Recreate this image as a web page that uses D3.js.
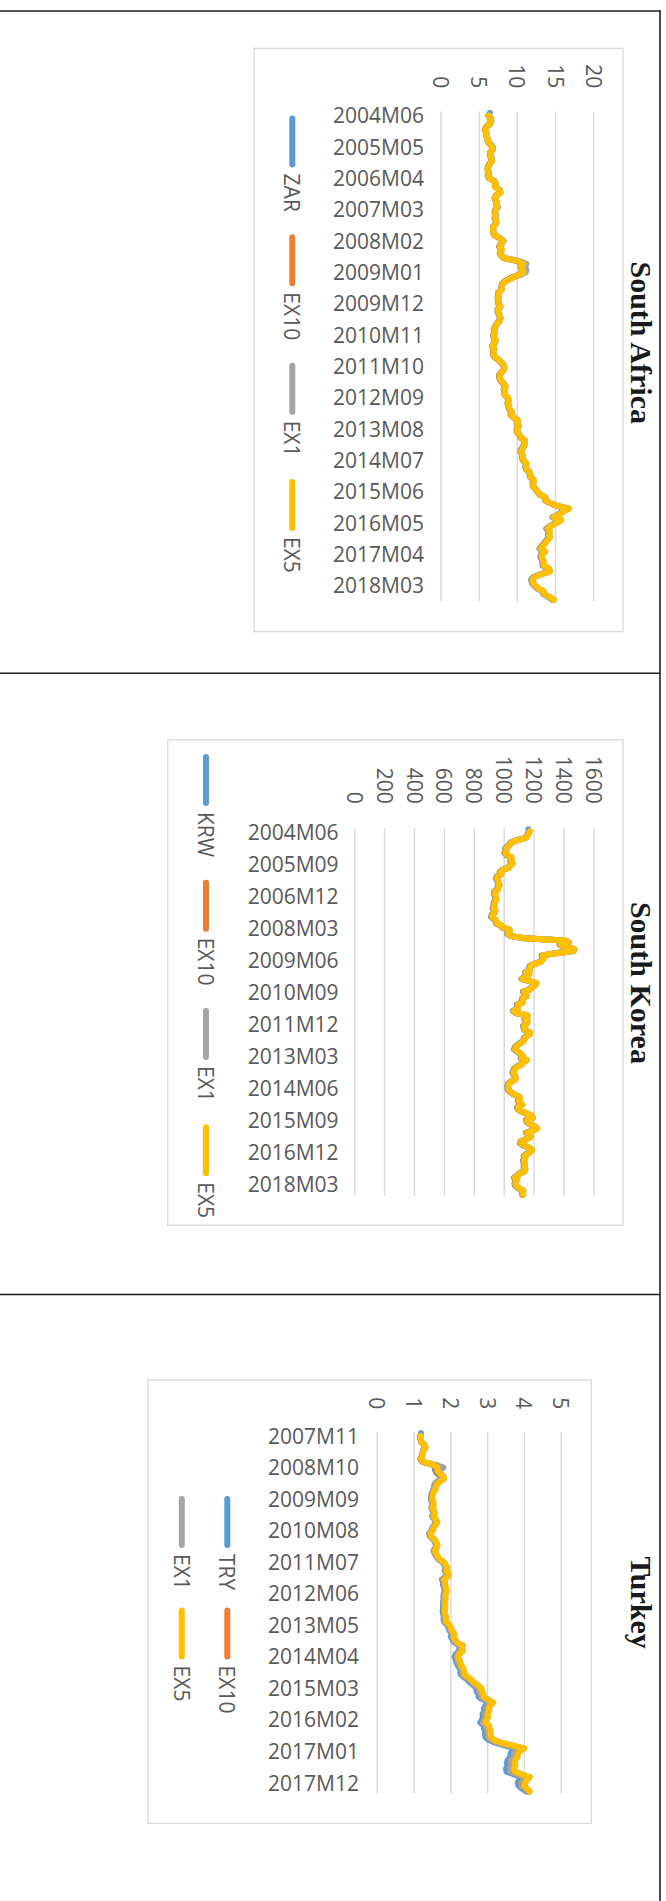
<!DOCTYPE html>
<html>
<head>
<meta charset="utf-8">
<script src="https://cdn.jsdelivr.net/npm/d3@7"></script>
<style>
  html, body { margin: 0; padding: 0; background: #fff; }
  svg { display: block; }
</style>
</head>
<body>
<svg id="page" width="666" height="1901"></svg>
<script>
// ---------------- South Africa (USD/ZAR), 2004M06 - 2018M09 ----------------
const saNames = ["ZAR", "EX10", "EX1", "EX5"];
const saTicks = [0, 5, 10, 15, 20];
const saLabels = ["2004M06","2005M05","2006M04","2007M03","2008M02","2009M01","2009M12","2010M11",
                  "2011M10","2012M09","2013M08","2014M07","2015M06","2016M05","2017M04","2018M03"];
const saZAR = [
  6.4,6.2,6.5,6.5,6.3,5.9,5.7,
  5.9,5.9,6.1,6.1,6.4,6.7,6.7,6.4,6.4,6.6,6.6,6.3,
  6.1,6.1,6.2,6.1,6.3,7.0,7.1,7.1,7.6,7.7,7.2,7.0,
  7.2,7.2,7.4,7.1,7.0,7.1,7.0,7.2,7.1,6.8,6.8,6.8,
  7.0,7.7,8.1,7.8,7.6,7.9,7.7,7.8,8.2,9.9,10.7,10.4,
  10.6,10.7,10.0,9.1,8.4,8.0,7.9,7.9,7.5,7.5,7.4,7.5,
  7.5,7.7,7.4,7.4,7.6,7.7,7.6,7.3,7.1,6.9,7.0,6.8,
  6.9,7.1,6.9,6.7,6.9,6.8,6.8,7.1,7.6,8.0,8.2,8.2,
  7.9,7.6,7.6,7.8,8.1,8.4,8.2,8.3,8.3,8.7,8.8,8.7,
  8.8,8.9,9.2,9.1,9.5,10.0,9.9,10.1,9.9,9.9,10.2,10.4,
  10.9,10.9,10.8,10.5,10.4,10.6,10.6,10.7,11.1,11.0,11.1,11.5,
  11.6,11.7,12.1,12.0,12.0,12.3,12.6,12.9,13.6,13.6,14.2,15.2,
  16.6,15.8,15.4,14.6,15.6,15.0,14.3,13.8,14.1,14.0,14.1,13.8,
  13.5,13.2,12.9,13.5,13.1,13.0,13.2,13.3,13.3,14.0,14.1,13.0,
  12.1,11.8,11.9,12.2,12.6,13.3,13.4,14.1,14.6
];
// forecast series have no value for the first month
const saEX10 = [
  null,6.25,6.5,6.55,6.35,5.95,5.75,
  5.9,5.95,6.1,6.15,6.4,6.7,6.75,6.45,6.45,6.6,6.65,6.35,
  6.15,6.1,6.2,6.15,6.35,7.0,7.15,7.1,7.6,7.75,7.25,7.05,
  7.2,7.25,7.4,7.15,7.05,7.1,7.05,7.25,7.15,6.85,6.8,6.85,
  7.05,7.7,8.15,7.85,7.65,7.95,7.75,7.85,8.25,9.95,10.75,10.45,
  10.65,10.75,10.05,9.2,8.5,8.05,7.95,7.95,7.55,7.55,7.45,7.55,
  7.55,7.75,7.45,7.45,7.65,7.75,7.65,7.35,7.15,6.95,7.05,6.85,
  6.95,7.15,6.95,6.75,6.95,6.85,6.85,7.15,7.65,8.05,8.25,8.25,
  7.95,7.65,7.65,7.85,8.15,8.45,8.25,8.35,8.35,8.75,8.85,8.75,
  8.85,8.95,9.25,9.15,9.55,10.05,9.95,10.15,9.95,9.95,10.25,10.45,
  10.95,10.95,10.85,10.6,10.45,10.65,10.65,10.75,11.15,11.1,11.15,11.55,
  11.65,11.75,12.15,12.05,12.05,12.35,12.65,12.95,13.65,13.65,14.25,15.25,
  16.7,15.9,15.5,14.7,15.7,15.1,14.4,13.9,14.2,14.1,14.2,13.9,
  13.6,13.3,13.0,13.6,13.2,13.1,13.3,13.4,13.4,14.1,14.2,13.1,
  12.2,11.9,12.0,12.3,12.7,13.4,13.5,14.2,14.7
];
const saEX1 = [
  null,6.2,6.6,6.6,6.4,6.0,5.8,
  6.0,6.0,6.1,6.2,6.5,6.8,6.8,6.5,6.5,6.7,6.7,6.4,
  6.2,6.1,6.3,6.2,6.4,7.1,7.2,7.2,7.7,7.8,7.3,7.1,
  7.3,7.3,7.5,7.2,7.1,7.2,7.1,7.3,7.2,6.9,6.9,6.9,
  7.1,7.8,8.2,7.9,7.7,8.0,7.8,7.9,8.4,10.2,11.2,10.9,
  11.2,11.1,10.3,9.3,8.6,8.1,8.0,8.0,7.6,7.6,7.5,7.6,
  7.6,7.8,7.5,7.5,7.7,7.8,7.7,7.4,7.2,7.0,7.1,6.9,
  7.0,7.2,7.0,6.8,7.0,6.9,6.9,7.2,7.7,8.1,8.3,8.3,
  8.0,7.7,7.7,7.9,8.2,8.5,8.3,8.4,8.4,8.8,8.9,8.8,
  8.9,9.0,9.3,9.2,9.6,10.1,10.0,10.2,10.0,10.0,10.3,10.5,
  11.0,11.0,10.9,10.6,10.5,10.7,10.7,10.8,11.2,11.1,11.2,11.6,
  11.7,11.8,12.2,12.1,12.1,12.4,12.7,13.0,13.7,13.7,14.3,15.3,
  16.7,15.9,15.5,14.7,15.7,15.1,14.4,13.9,14.2,14.1,14.2,13.9,
  13.6,13.3,13.0,13.6,13.2,13.1,13.3,13.4,13.4,14.1,14.2,13.1,
  12.2,11.9,12.0,12.3,12.7,13.4,13.5,14.2,14.7
];
const saEX5 = [
  null,6.3,6.5,6.6,6.4,6.0,5.8,
  5.9,6.0,6.1,6.2,6.4,6.7,6.8,6.5,6.5,6.6,6.7,6.4,
  6.2,6.1,6.2,6.2,6.4,7.0,7.2,7.1,7.6,7.8,7.3,7.1,
  7.2,7.3,7.4,7.2,7.1,7.1,7.1,7.3,7.2,6.9,6.8,6.9,
  7.1,7.7,8.2,7.9,7.7,8.0,7.8,7.9,8.3,10.0,10.8,10.5,
  10.7,10.8,10.1,9.3,8.6,8.1,8.0,8.0,7.6,7.6,7.5,7.6,
  7.6,7.8,7.5,7.5,7.7,7.8,7.7,7.4,7.2,7.0,7.1,6.9,
  7.0,7.2,7.0,6.8,7.0,6.9,6.9,7.2,7.7,8.1,8.3,8.3,
  8.0,7.7,7.7,7.9,8.2,8.5,8.3,8.4,8.4,8.8,8.9,8.8,
  8.9,9.0,9.3,9.2,9.6,10.1,10.0,10.2,10.0,10.0,10.3,10.5,
  11.0,11.0,10.9,10.7,10.5,10.7,10.7,10.8,11.2,11.2,11.2,11.6,
  11.7,11.8,12.2,12.1,12.1,12.4,12.7,13.0,13.7,13.7,14.3,15.3,
  16.8,16.0,15.6,14.8,15.8,15.2,14.5,14.0,14.3,14.2,14.3,14.0,
  13.7,13.4,13.1,13.7,13.3,13.2,13.4,13.5,13.5,14.2,14.3,13.2,
  12.3,12.0,12.1,12.4,12.8,13.5,13.6,14.3,14.8
];

// ---------------- South Korea (USD/KRW), 2004M06 - 2018M09 ----------------
const krNames = ["KRW", "EX10", "EX1", "EX5"];
const krTicks = [0, 200, 400, 600, 800, 1000, 1200, 1400, 1600];
const krLabels = ["2004M06","2005M09","2006M12","2008M03","2009M06","2010M09",
                  "2011M12","2013M03","2014M06","2015M09","2016M12","2018M03"];
const krKRW = [
  1162,1165,1159,1150,1140,1090,1045,
  1035,1020,1006,1011,1000,1012,1040,1045,1040,1050,1035,1025,
  985,970,975,950,945,953,955,962,955,953,935,930,
  937,938,942,930,928,928,921,935,930,915,912,930,
  942,945,975,985,1030,1030,1020,1045,1130,1400,1420,1370,
  1400,1460,1455,1340,1250,1260,1250,1240,1200,1170,1165,1165,
  1140,1160,1135,1115,1165,1210,1200,1180,1165,1125,1135,1145,
  1120,1118,1120,1085,1085,1085,1058,1075,1150,1150,1135,1150,
  1145,1125,1130,1135,1165,1165,1140,1130,1125,1105,1085,1070,
  1065,1085,1105,1120,1110,1145,1125,1112,1085,1065,1060,1055,
  1065,1070,1070,1045,1025,1020,1020,1025,1040,1060,1095,1100,
  1090,1100,1115,1085,1090,1110,1145,1180,1185,1145,1150,1170,
  1200,1215,1185,1145,1170,1170,1145,1110,1105,1130,1160,1180,
  1170,1145,1130,1135,1125,1130,1130,1130,1135,1130,1100,1085,
  1065,1080,1070,1068,1075,1095,1122,1120,1120
];
const krEX10 = [
  null,1169,1163,1154,1144,1094,1049,
  1039,1024,1010,1015,1004,1016,1044,1049,1044,1054,1039,1029,
  989,974,979,954,949,957,959,966,959,957,939,934,
  941,942,946,934,932,932,925,939,934,919,916,934,
  946,949,979,989,1034,1034,1024,1049,1134,1404,1424,1374,
  1404,1464,1459,1344,1254,1264,1254,1244,1204,1174,1169,1169,
  1144,1164,1139,1119,1169,1214,1204,1184,1169,1129,1139,1149,
  1124,1122,1124,1089,1089,1089,1062,1079,1154,1154,1139,1154,
  1149,1129,1134,1139,1169,1169,1144,1134,1129,1109,1089,1074,
  1069,1089,1109,1124,1114,1149,1129,1116,1089,1069,1064,1059,
  1069,1074,1074,1049,1029,1024,1024,1029,1044,1064,1099,1104,
  1094,1104,1119,1089,1094,1114,1149,1184,1189,1149,1154,1174,
  1204,1219,1189,1149,1174,1174,1149,1114,1109,1134,1164,1184,
  1174,1149,1134,1139,1129,1134,1134,1134,1139,1134,1104,1089,
  1069,1084,1074,1072,1079,1099,1126,1124,1124
];
const krEX1 = [
  null,1171,1165,1156,1146,1096,1051,
  1041,1026,1012,1017,1006,1018,1046,1051,1046,1056,1041,1031,
  991,976,981,956,951,959,961,968,961,959,941,936,
  943,944,948,936,934,934,927,941,936,921,918,936,
  948,951,981,991,1036,1036,1026,1051,1140,1415,1435,1380,
  1410,1472,1466,1350,1256,1266,1256,1246,1206,1176,1171,1171,
  1146,1166,1141,1121,1171,1216,1206,1186,1171,1131,1141,1151,
  1126,1124,1126,1091,1091,1091,1064,1081,1156,1156,1141,1156,
  1151,1131,1136,1141,1171,1171,1146,1136,1131,1111,1091,1076,
  1071,1091,1111,1126,1116,1151,1131,1118,1091,1071,1066,1061,
  1071,1076,1076,1051,1031,1026,1026,1031,1046,1066,1101,1106,
  1096,1106,1121,1091,1096,1116,1151,1186,1191,1151,1156,1176,
  1206,1221,1191,1151,1176,1176,1151,1116,1111,1136,1166,1186,
  1176,1151,1136,1141,1131,1136,1136,1136,1141,1136,1106,1091,
  1071,1086,1076,1074,1081,1101,1128,1126,1126
];
const krEX5 = [
  null,1173,1167,1158,1148,1098,1053,
  1043,1028,1014,1019,1008,1020,1048,1053,1048,1058,1043,1033,
  993,978,983,958,953,961,963,970,963,961,943,938,
  945,946,950,938,936,936,929,943,938,923,920,938,
  950,953,983,993,1038,1038,1028,1053,1138,1408,1428,1378,
  1408,1468,1463,1348,1258,1268,1258,1248,1208,1178,1173,1173,
  1148,1168,1143,1123,1173,1218,1208,1188,1173,1133,1143,1153,
  1128,1126,1128,1093,1093,1093,1066,1083,1158,1158,1143,1158,
  1153,1133,1138,1143,1173,1173,1148,1138,1133,1113,1093,1078,
  1073,1093,1113,1128,1118,1153,1133,1120,1093,1073,1068,1063,
  1073,1078,1078,1053,1033,1028,1028,1033,1048,1068,1103,1108,
  1098,1108,1123,1093,1098,1118,1153,1188,1193,1153,1158,1178,
  1208,1223,1193,1153,1178,1178,1153,1118,1113,1138,1168,1188,
  1178,1153,1138,1143,1133,1138,1138,1138,1143,1138,1108,1093,
  1073,1088,1078,1076,1083,1103,1130,1128,1128
];

// ---------------- Turkey (USD/TRY), 2007M11 - 2018M04 ----------------
const trNames = ["TRY", "EX10", "EX1", "EX5"];
const trTicks = [0, 1, 2, 3, 4, 5];
const trLabels = ["2007M11","2008M10","2009M09","2010M08","2011M07","2012M06",
                  "2013M05","2014M04","2015M03","2016M02","2017M01","2017M12"];
const trTRY = [
  1.19,1.17,
  1.17,1.19,1.27,1.30,1.24,1.23,1.21,1.17,1.23,1.50,1.58,1.57,
  1.62,1.72,1.73,1.62,1.55,1.55,1.52,1.48,1.47,1.46,1.49,1.50,
  1.47,1.51,1.53,1.49,1.55,1.60,1.55,1.50,1.48,1.41,1.43,1.52,
  1.57,1.60,1.58,1.53,1.56,1.61,1.66,1.77,1.82,1.86,1.83,1.90,
  1.87,1.76,1.79,1.79,1.82,1.83,1.81,1.80,1.80,1.79,1.79,1.79,
  1.78,1.79,1.81,1.80,1.83,1.91,1.94,1.97,2.03,2.00,2.05,2.09,
  2.24,2.23,2.24,2.14,2.10,2.14,2.15,2.19,2.24,2.27,2.26,2.35,
  2.45,2.52,2.62,2.70,2.70,2.75,2.76,2.88,3.02,2.95,2.90,2.92,
  2.86,2.88,2.84,2.80,2.90,2.90,2.94,2.93,2.94,3.02,3.20,3.48,
  3.78,3.66,3.62,3.62,3.55,3.52,3.54,3.50,3.51,3.70,3.93,3.86,
  3.82,3.84,3.93,4.05
];
const trEX10 = [
  null,1.18,
  1.18,1.20,1.28,1.31,1.25,1.24,1.22,1.18,1.24,1.51,1.61,1.60,
  1.66,1.76,1.77,1.66,1.58,1.57,1.54,1.50,1.49,1.48,1.51,1.52,
  1.49,1.53,1.55,1.51,1.57,1.62,1.57,1.52,1.50,1.43,1.45,1.54,
  1.59,1.62,1.60,1.55,1.58,1.63,1.68,1.79,1.84,1.88,1.85,1.92,
  1.90,1.79,1.82,1.82,1.85,1.86,1.84,1.83,1.83,1.82,1.82,1.82,
  1.81,1.82,1.84,1.83,1.86,1.94,1.97,2.00,2.07,2.04,2.09,2.13,
  2.28,2.27,2.28,2.19,2.15,2.19,2.20,2.24,2.29,2.32,2.31,2.40,
  2.50,2.58,2.68,2.77,2.77,2.82,2.83,2.95,3.09,3.01,2.97,2.98,
  2.93,2.95,2.91,2.87,2.97,2.97,3.01,3.00,3.01,3.10,3.29,3.60,
  3.89,3.77,3.72,3.72,3.65,3.63,3.65,3.61,3.62,3.81,4.04,3.97,
  3.92,3.92,4.00,4.10
];
const trEX1 = [
  null,1.18,
  1.18,1.20,1.28,1.31,1.26,1.24,1.22,1.18,1.25,1.58,1.80,1.70,
  1.72,1.80,1.78,1.66,1.58,1.57,1.54,1.50,1.49,1.48,1.51,1.52,
  1.49,1.53,1.55,1.51,1.57,1.62,1.57,1.52,1.50,1.43,1.45,1.54,
  1.59,1.62,1.60,1.55,1.58,1.63,1.68,1.79,1.84,1.88,1.85,1.92,
  1.90,1.79,1.82,1.82,1.85,1.86,1.84,1.83,1.83,1.82,1.82,1.82,
  1.81,1.82,1.84,1.83,1.86,1.94,1.97,2.00,2.07,2.04,2.09,2.13,
  2.28,2.27,2.28,2.19,2.15,2.19,2.20,2.24,2.29,2.32,2.31,2.40,
  2.50,2.58,2.68,2.77,2.77,2.82,2.83,2.95,3.09,3.01,2.97,2.98,
  2.93,2.95,2.91,2.87,2.97,2.97,3.01,3.00,3.01,3.10,3.29,3.60,
  3.89,3.77,3.72,3.72,3.65,3.63,3.65,3.61,3.62,3.81,4.04,3.97,
  3.92,3.92,4.00,4.10
];
const trEX5 = [
  null,1.19,
  1.19,1.21,1.29,1.32,1.27,1.25,1.23,1.19,1.26,1.53,1.64,1.64,
  1.70,1.80,1.82,1.70,1.61,1.60,1.57,1.52,1.51,1.50,1.53,1.54,
  1.51,1.55,1.57,1.53,1.59,1.64,1.59,1.54,1.52,1.45,1.47,1.56,
  1.61,1.64,1.62,1.57,1.60,1.65,1.70,1.82,1.87,1.91,1.88,1.95,
  1.93,1.82,1.85,1.85,1.88,1.89,1.87,1.86,1.86,1.85,1.85,1.85,
  1.84,1.85,1.87,1.87,1.90,1.98,2.01,2.04,2.11,2.08,2.13,2.17,
  2.33,2.32,2.33,2.24,2.20,2.24,2.25,2.29,2.34,2.37,2.37,2.46,
  2.56,2.64,2.75,2.84,2.84,2.89,2.90,3.03,3.16,3.08,3.04,3.05,
  3.00,3.02,2.98,2.95,3.05,3.05,3.09,3.08,3.09,3.18,3.38,3.72,
  4.00,3.88,3.82,3.82,3.76,3.74,3.76,3.72,3.74,3.93,4.15,4.08,
  4.02,4.00,4.08,4.15
];

// ---------------- helpers ----------------
const seriesColors = ["#5b9bd5", "#ed7d31", "#a5a5a5", "#ffc000"];
const labelFont = "'Open Sans', 'Liberation Sans', sans-serif";
const labelSize = 21;
const labelColor = "#595959";

// month labels of the form 2004M06 from first to last inclusive
function monthSeq(first, last) {
  const [y0, m0] = first.split("M").map(Number);
  const [y1, m1] = last.split("M").map(Number);
  const out = [];
  let y = y0, m = m0;
  while (y < y1 || (y === y1 && m <= m1)) {
    out.push(y + "M" + String(m).padStart(2, "0"));
    m++;
    if (m > 12) { m = 1; y++; }
  }
  return out;
}

const svg = d3.select("#page");

function drawChart(c) {
  const g = svg.append("g");

  // chart frame
  g.append("rect")
    .attr("x", c.box[0]).attr("y", c.box[1])
    .attr("width", c.box[2] - c.box[0]).attr("height", c.box[3] - c.box[1])
    .attr("fill", "#fff").attr("stroke", "#d9d9d9").attr("stroke-width", 1.3);

  // value axis runs left -> right, months run top -> bottom
  const x = d3.scaleLinear().domain([0, d3.max(c.ticks)]).range(c.valueRange);
  const y = d3.scalePoint().domain(c.months).range(c.catRange).padding(0.5);

  g.append("g").selectAll("line").data(c.ticks).join("line")
    .attr("x1", d => x(d)).attr("x2", d => x(d))
    .attr("y1", c.catRange[0]).attr("y2", c.catRange[1])
    .attr("stroke", "#d9d9d9").attr("stroke-width", 1.5);

  g.append("g").selectAll("text").data(c.ticks).join("text")
    .attr("transform", d => `translate(${x(d)},${c.tickEnd}) rotate(90)`)
    .attr("text-anchor", "end").attr("dominant-baseline", "central")
    .style("font-family", labelFont).style("font-size", labelSize + "px")
    .attr("fill", labelColor).text(d => d);

  g.append("g").selectAll("text").data(c.labels).join("text")
    .attr("x", c.catRight).attr("y", d => y(d) + 2.5)
    .attr("text-anchor", "end").attr("dominant-baseline", "central")
    .style("font-family", labelFont).style("font-size", labelSize + "px")
    .attr("fill", labelColor).text(d => d);

  const line = d3.line()
    .defined(d => d[0] !== undefined && d[1] != null)
    .x(d => x(d[1])).y(d => y(d[0]));

  c.series.forEach((vals, i) => {
    g.append("path")
      .datum(vals.map((v, k) => [c.months[k], v]))
      .attr("d", line)
      .attr("fill", "none").attr("stroke", seriesColors[i])
      .attr("stroke-width", 6)
      .attr("stroke-linejoin", "round").attr("stroke-linecap", "round");
  });

  // legend: short vertical line samples followed by rotated names
  const lg = g.append("g");
  const lineLen = 52, gap = 6, spacing = 22.5;
  const texts = c.names.map(n => lg.append("text")
    .attr("dominant-baseline", "central")
    .style("font-family", labelFont).style("font-size", labelSize + "px")
    .attr("fill", labelColor).text(n));
  const widths = texts.map(t => t.node().getComputedTextLength());

  const place = (i, lx, pos) => {
    lg.append("line")
      .attr("x1", lx).attr("x2", lx)
      .attr("y1", pos + 3).attr("y2", pos + lineLen - 3)
      .attr("stroke", seriesColors[i]).attr("stroke-width", 6)
      .attr("stroke-linecap", "round");
    texts[i].attr("transform", `translate(${lx},${pos + lineLen + gap}) rotate(90)`);
  };

  if (c.legend.slot) {
    c.names.forEach((n, i) => {
      const row = Math.floor(i / c.legend.perRow), col = i % c.legend.perRow;
      place(i, c.legend.xs[row], c.legend.start + col * c.legend.slot);
    });
  } else {
    const total = d3.sum(widths) + c.names.length * (lineLen + gap) + (c.names.length - 1) * spacing;
    let pos = c.legend.center - total / 2;
    c.names.forEach((n, i) => {
      place(i, c.legend.xs[0], pos);
      pos += lineLen + gap + widths[i] + spacing;
    });
  }

  // cell title, set sideways like the rest of the page
  g.append("text")
    .attr("transform", `translate(631,${c.titleY}) rotate(90)`)
    .attr("text-anchor", "middle")
    .style("font-family", "'Liberation Serif', 'Times New Roman', serif")
    .style("font-weight", "bold").style("font-size", "30px")
    .attr("fill", "#1a1a1a").text(c.title);
}

// table rules
const rule = "#231f20";
svg.append("line").attr("x1", 0).attr("x2", 660.5).attr("y1", 11).attr("y2", 11)
  .attr("stroke", rule).attr("stroke-width", 1.6);
svg.append("line").attr("x1", 660).attr("x2", 660).attr("y1", 10.2).attr("y2", 1901)
  .attr("stroke", rule).attr("stroke-width", 1.6);
[673.3, 1294.5].forEach(yy => svg.append("line")
  .attr("x1", 0).attr("x2", 660).attr("y1", yy).attr("y2", yy)
  .attr("stroke", rule).attr("stroke-width", 1.6));

drawChart({
  title: "South Africa", titleY: 342.7,
  box: [254, 48.3, 623, 631.7],
  valueRange: [441, 593.7], catRange: [111.4, 601.3],
  tickEnd: 88.2, catRight: 424,
  ticks: saTicks, labels: saLabels,
  months: monthSeq("2004M06", "2018M09"),
  names: saNames, series: [saZAR, saEX10, saEX1, saEX5],
  legend: { xs: [292.3], center: 344.2 }
});

drawChart({
  title: "South Korea", titleY: 982.9,
  box: [167.8, 739.8, 623, 1225.2],
  valueRange: [354.7, 593.9], catRange: [828.2, 1195.8],
  tickEnd: 803.7, catRight: 338.6,
  ticks: krTicks, labels: krLabels,
  months: monthSeq("2004M06", "2018M09"),
  names: krNames, series: [krKRW, krEX10, krEX1, krEX5],
  legend: { xs: [206], center: 986 }
});

drawChart({
  title: "Turkey", titleY: 1602.7,
  box: [147.8, 1380, 591.3, 1823.4],
  valueRange: [377.2, 561.2], catRange: [1431.7, 1792.9],
  tickEnd: 1409.3, catRight: 359,
  ticks: trTicks, labels: trLabels,
  months: monthSeq("2007M11", "2018M04"),
  names: trNames, series: [trTRY, trEX10, trEX1, trEX5],
  legend: { xs: [227.3, 181.8], perRow: 2, start: 1496, slot: 111.6 }
});
</script>
</body>
</html>
